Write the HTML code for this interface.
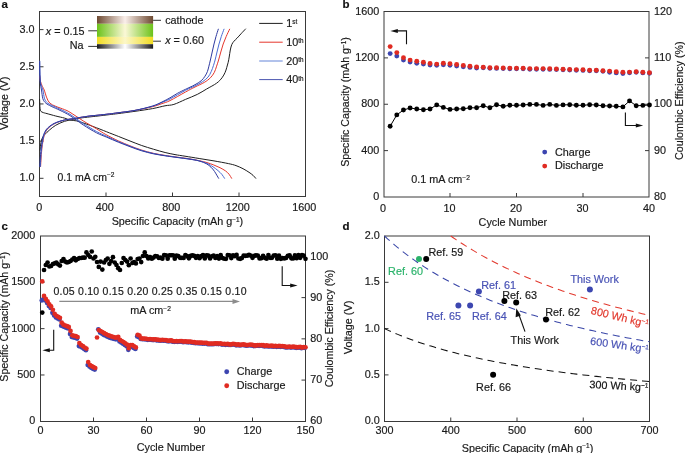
<!DOCTYPE html>
<html><head><meta charset="utf-8"><style>
html,body{margin:0;padding:0;background:#fff;}
svg{display:block;will-change:transform;}
text{font-family:"Liberation Sans", sans-serif;stroke-width:0.18px;}
</style></head><body>
<svg width="685" height="453" viewBox="0 0 685 453">
<rect width="685" height="453" fill="#fff"/>
<rect x="39.50" y="11.50" width="266.00" height="185.00" fill="none" stroke="#3a3a3a" stroke-width="1"/>
<line x1="39.50" y1="178.30" x2="43.50" y2="178.30" stroke="#3a3a3a" stroke-width="1.00" />
<line x1="39.50" y1="141.12" x2="43.50" y2="141.12" stroke="#3a3a3a" stroke-width="1.00" />
<line x1="39.50" y1="103.95" x2="43.50" y2="103.95" stroke="#3a3a3a" stroke-width="1.00" />
<line x1="39.50" y1="66.78" x2="43.50" y2="66.78" stroke="#3a3a3a" stroke-width="1.00" />
<line x1="39.50" y1="29.60" x2="43.50" y2="29.60" stroke="#3a3a3a" stroke-width="1.00" />
<line x1="106.00" y1="196.50" x2="106.00" y2="192.50" stroke="#3a3a3a" stroke-width="1.00" />
<line x1="172.50" y1="196.50" x2="172.50" y2="192.50" stroke="#3a3a3a" stroke-width="1.00" />
<line x1="239.00" y1="196.50" x2="239.00" y2="192.50" stroke="#3a3a3a" stroke-width="1.00" />
<rect x="384.00" y="11.50" width="265.00" height="185.50" fill="none" stroke="#3a3a3a" stroke-width="1"/>
<line x1="384.00" y1="150.62" x2="388.00" y2="150.62" stroke="#3a3a3a" stroke-width="1.00" />
<line x1="384.00" y1="104.25" x2="388.00" y2="104.25" stroke="#3a3a3a" stroke-width="1.00" />
<line x1="384.00" y1="57.88" x2="388.00" y2="57.88" stroke="#3a3a3a" stroke-width="1.00" />
<line x1="649.00" y1="150.62" x2="645.00" y2="150.62" stroke="#3a3a3a" stroke-width="1.00" />
<line x1="649.00" y1="104.25" x2="645.00" y2="104.25" stroke="#3a3a3a" stroke-width="1.00" />
<line x1="649.00" y1="57.88" x2="645.00" y2="57.88" stroke="#3a3a3a" stroke-width="1.00" />
<line x1="450.00" y1="197.00" x2="450.00" y2="193.00" stroke="#3a3a3a" stroke-width="1.00" />
<line x1="516.50" y1="197.00" x2="516.50" y2="193.00" stroke="#3a3a3a" stroke-width="1.00" />
<line x1="583.00" y1="197.00" x2="583.00" y2="193.00" stroke="#3a3a3a" stroke-width="1.00" />
<rect x="40.50" y="236.00" width="265.00" height="185.50" fill="none" stroke="#3a3a3a" stroke-width="1"/>
<line x1="40.50" y1="374.98" x2="44.50" y2="374.98" stroke="#3a3a3a" stroke-width="1.00" />
<line x1="40.50" y1="328.65" x2="44.50" y2="328.65" stroke="#3a3a3a" stroke-width="1.00" />
<line x1="40.50" y1="282.33" x2="44.50" y2="282.33" stroke="#3a3a3a" stroke-width="1.00" />
<line x1="305.50" y1="380.08" x2="301.50" y2="380.08" stroke="#3a3a3a" stroke-width="1.00" />
<line x1="305.50" y1="338.85" x2="301.50" y2="338.85" stroke="#3a3a3a" stroke-width="1.00" />
<line x1="305.50" y1="297.62" x2="301.50" y2="297.62" stroke="#3a3a3a" stroke-width="1.00" />
<line x1="305.50" y1="256.40" x2="301.50" y2="256.40" stroke="#3a3a3a" stroke-width="1.00" />
<line x1="93.50" y1="421.50" x2="93.50" y2="417.50" stroke="#3a3a3a" stroke-width="1.00" />
<line x1="146.50" y1="421.50" x2="146.50" y2="417.50" stroke="#3a3a3a" stroke-width="1.00" />
<line x1="199.50" y1="421.50" x2="199.50" y2="417.50" stroke="#3a3a3a" stroke-width="1.00" />
<line x1="252.50" y1="421.50" x2="252.50" y2="417.50" stroke="#3a3a3a" stroke-width="1.00" />
<rect x="384.50" y="236.00" width="265.00" height="185.50" fill="none" stroke="#3a3a3a" stroke-width="1"/>
<line x1="384.50" y1="374.90" x2="388.50" y2="374.90" stroke="#3a3a3a" stroke-width="1.00" />
<line x1="384.50" y1="328.60" x2="388.50" y2="328.60" stroke="#3a3a3a" stroke-width="1.00" />
<line x1="384.50" y1="282.30" x2="388.50" y2="282.30" stroke="#3a3a3a" stroke-width="1.00" />
<line x1="450.75" y1="421.50" x2="450.75" y2="417.50" stroke="#3a3a3a" stroke-width="1.00" />
<line x1="517.00" y1="421.50" x2="517.00" y2="417.50" stroke="#3a3a3a" stroke-width="1.00" />
<line x1="583.25" y1="421.50" x2="583.25" y2="417.50" stroke="#3a3a3a" stroke-width="1.00" />
<text x="1.50" y="8.00" font-size="11.50" text-anchor="start" fill="#111" stroke="#111" font-weight="bold" >a</text>
<text x="342.50" y="8.00" font-size="11.50" text-anchor="start" fill="#111" stroke="#111" font-weight="bold" >b</text>
<text x="1.50" y="229.60" font-size="11.50" text-anchor="start" fill="#111" stroke="#111" font-weight="bold" >c</text>
<text x="342.50" y="229.60" font-size="11.50" text-anchor="start" fill="#111" stroke="#111" font-weight="bold" >d</text>
<defs>
<linearGradient id="gBrown" x1="0" x2="1" y1="0" y2="0">
 <stop offset="0" stop-color="#6e4a32"/><stop offset="0.5" stop-color="#faefea"/><stop offset="1" stop-color="#6e4a32"/></linearGradient>
<linearGradient id="gGreen" x1="0" x2="1" y1="0" y2="0">
 <stop offset="0" stop-color="#6cc21a"/><stop offset="0.5" stop-color="#fbf8d6"/><stop offset="1" stop-color="#6cc21a"/></linearGradient>
<linearGradient id="gYellow" x1="0" x2="1" y1="0" y2="0">
 <stop offset="0" stop-color="#f1dc22"/><stop offset="0.5" stop-color="#fcf7c8"/><stop offset="1" stop-color="#f1dc22"/></linearGradient>
<linearGradient id="gBlack" x1="0" x2="1" y1="0" y2="0">
 <stop offset="0" stop-color="#1c1c1c"/><stop offset="0.5" stop-color="#ffffff"/><stop offset="1" stop-color="#1c1c1c"/></linearGradient>
</defs>
<rect x="97" y="16" width="56.1" height="7.8" fill="url(#gBrown)"/>
<rect x="97" y="23.8" width="56.1" height="13.1" fill="url(#gGreen)"/>
<rect x="97" y="36.9" width="56.1" height="7.3" fill="url(#gYellow)"/>
<rect x="97" y="44.2" width="56.1" height="4.5" fill="url(#gBlack)"/>
<line x1="88.20" y1="30.80" x2="97.00" y2="30.80" stroke="#333" stroke-width="1.00" />
<line x1="88.20" y1="46.40" x2="97.00" y2="46.40" stroke="#333" stroke-width="1.00" />
<line x1="153.10" y1="20.30" x2="161.00" y2="20.30" stroke="#333" stroke-width="1.00" />
<line x1="153.10" y1="41.20" x2="161.00" y2="41.20" stroke="#333" stroke-width="1.00" />
<text x="84.60" y="34.80" font-size="10.80" text-anchor="end" fill="#1a1a1a" stroke="#1a1a1a" font-weight="normal" ><tspan font-style="italic">x</tspan> = 0.15</text>
<text x="83.50" y="48.70" font-size="10.80" text-anchor="end" fill="#1a1a1a" stroke="#1a1a1a" font-weight="normal" >Na</text>
<text x="165.20" y="23.70" font-size="10.80" text-anchor="start" fill="#1a1a1a" stroke="#1a1a1a" font-weight="normal" >cathode</text>
<text x="165.20" y="43.90" font-size="10.80" text-anchor="start" fill="#1a1a1a" stroke="#1a1a1a" font-weight="normal" ><tspan font-style="italic">x</tspan> = 0.60</text>
<path d="M39.60,99.50 C39.63,100.25 39.72,102.45 39.80,104.00 C39.88,105.55 39.92,107.58 40.10,108.80 C40.28,110.02 40.37,110.67 40.90,111.30 C41.43,111.93 42.28,112.22 43.30,112.60 C44.32,112.98 44.93,113.03 47.00,113.60 C49.07,114.17 52.78,115.25 55.70,116.00 C58.62,116.75 62.12,117.43 64.50,118.10 C66.88,118.77 67.98,119.53 70.00,120.00 C72.02,120.47 74.40,120.42 76.60,120.90 C78.80,121.38 79.88,121.75 83.20,122.90 C86.52,124.05 92.08,126.12 96.50,127.80 C100.92,129.48 106.05,131.57 109.70,133.00 C113.35,134.43 115.02,135.07 118.40,136.40 C121.78,137.73 126.12,139.48 130.00,141.00 C133.88,142.52 137.80,144.13 141.70,145.50 C145.60,146.87 149.50,148.03 153.40,149.20 C157.30,150.37 161.50,151.60 165.10,152.50 C168.70,153.40 171.68,153.98 175.00,154.60 C178.32,155.22 180.97,155.55 185.00,156.20 C189.03,156.85 194.37,157.72 199.20,158.50 C204.03,159.28 209.13,160.05 214.00,160.90 C218.87,161.75 224.73,162.82 228.40,163.60 C232.07,164.38 233.57,164.75 236.00,165.60 C238.43,166.45 240.83,167.58 243.00,168.70 C245.17,169.82 247.33,171.20 249.00,172.30 C250.67,173.40 251.88,174.30 253.00,175.30 C254.12,176.30 255.25,177.80 255.70,178.30" fill="none" stroke="#1e1e1e" stroke-width="1.00" stroke-linejoin="round" stroke-linecap="round"/>
<path d="M40.10,150.00 C40.18,149.17 40.37,146.67 40.60,145.00 C40.83,143.33 41.07,141.42 41.50,140.00 C41.93,138.58 42.60,137.47 43.20,136.50 C43.80,135.53 44.05,135.28 45.10,134.20 C46.15,133.12 47.73,131.48 49.50,130.00 C51.27,128.52 53.20,126.75 55.70,125.30 C58.20,123.85 61.57,122.28 64.50,121.30 C67.43,120.32 70.73,119.93 73.30,119.40 C75.87,118.87 77.13,118.52 79.90,118.10 C82.67,117.68 86.88,117.25 89.90,116.90 C92.92,116.55 94.70,116.38 98.00,116.00 C101.30,115.62 106.37,115.00 109.70,114.60 C113.03,114.20 113.78,114.15 118.00,113.60 C122.22,113.05 129.23,112.13 135.00,111.30 C140.77,110.47 147.60,109.52 152.60,108.60 C157.60,107.68 161.45,106.50 165.00,105.80 C168.55,105.10 170.48,105.47 173.90,104.40 C177.32,103.33 181.60,101.07 185.50,99.40 C189.40,97.73 193.78,96.13 197.30,94.40 C200.82,92.67 203.38,90.87 206.60,89.00 C209.82,87.13 214.03,85.07 216.60,83.20 C219.17,81.33 220.58,79.60 222.00,77.80 C223.42,76.00 224.32,74.08 225.10,72.40 C225.88,70.72 226.18,69.38 226.70,67.70 C227.22,66.02 227.78,64.08 228.20,62.30 C228.62,60.52 228.85,59.05 229.20,57.00 C229.55,54.95 229.87,52.08 230.30,50.00 C230.73,47.92 231.18,45.97 231.80,44.50 C232.42,43.03 233.13,42.25 234.00,41.20 C234.87,40.15 235.83,39.43 237.00,38.20 C238.17,36.97 239.58,35.33 241.00,33.80 C242.42,32.27 244.75,29.80 245.50,29.00" fill="none" stroke="#1e1e1e" stroke-width="1.00" stroke-linejoin="round" stroke-linecap="round"/>
<path d="M39.80,76.00 C39.90,76.83 40.03,79.42 40.40,81.00 C40.77,82.58 41.37,84.00 42.00,85.50 C42.63,87.00 43.40,87.93 44.20,90.00 C45.00,92.07 45.85,95.70 46.80,97.90 C47.75,100.10 48.42,101.80 49.90,103.20 C51.38,104.60 53.27,105.23 55.70,106.30 C58.13,107.37 62.12,108.60 64.50,109.60 C66.88,110.60 66.88,110.42 70.00,112.30 C73.12,114.18 78.78,118.15 83.20,120.90 C87.62,123.65 92.73,126.53 96.50,128.80 C100.27,131.07 102.15,132.48 105.80,134.50 C109.45,136.52 114.37,139.02 118.40,140.90 C122.43,142.78 126.12,144.27 130.00,145.80 C133.88,147.33 137.80,148.85 141.70,150.10 C145.60,151.35 149.50,152.42 153.40,153.30 C157.30,154.18 161.50,154.80 165.10,155.40 C168.70,156.00 171.18,156.37 175.00,156.90 C178.82,157.43 183.97,157.97 188.00,158.60 C192.03,159.23 196.03,160.03 199.20,160.70 C202.37,161.37 204.57,161.88 207.00,162.60 C209.43,163.32 211.63,164.15 213.80,165.00 C215.97,165.85 218.05,166.72 220.00,167.70 C221.95,168.68 224.00,169.82 225.50,170.90 C227.00,171.98 227.98,172.97 229.00,174.20 C230.02,175.43 231.17,177.62 231.60,178.30" fill="none" stroke="#e5362c" stroke-width="1.00" stroke-linejoin="round" stroke-linecap="round"/>
<path d="M40.60,166.50 C40.68,165.08 40.93,160.50 41.10,158.00 C41.27,155.50 41.38,153.75 41.60,151.50 C41.82,149.25 41.98,147.12 42.40,144.50 C42.82,141.88 43.38,138.22 44.10,135.80 C44.82,133.38 45.58,131.63 46.70,130.00 C47.82,128.37 49.17,127.22 50.80,126.00 C52.43,124.78 54.22,123.70 56.50,122.70 C58.78,121.70 61.70,120.67 64.50,120.00 C67.30,119.33 70.73,119.12 73.30,118.70 C75.87,118.28 77.13,117.95 79.90,117.50 C82.67,117.05 86.88,116.38 89.90,116.00 C92.92,115.62 94.70,115.55 98.00,115.20 C101.30,114.85 106.37,114.30 109.70,113.90 C113.03,113.50 113.78,113.38 118.00,112.80 C122.22,112.22 129.23,111.42 135.00,110.40 C140.77,109.38 148.10,107.83 152.60,106.70 C157.10,105.57 159.10,104.62 162.00,103.60 C164.90,102.58 166.08,102.53 170.00,100.60 C173.92,98.67 181.33,94.27 185.50,92.00 C189.67,89.73 191.87,88.60 195.00,87.00 C198.13,85.40 201.73,83.93 204.30,82.40 C206.87,80.87 208.73,79.47 210.40,77.80 C212.07,76.13 213.27,74.33 214.30,72.40 C215.33,70.47 215.88,68.27 216.60,66.20 C217.32,64.13 217.90,62.37 218.60,60.00 C219.30,57.63 220.03,54.67 220.80,52.00 C221.57,49.33 222.30,46.58 223.20,44.00 C224.10,41.42 225.13,38.97 226.20,36.50 C227.27,34.03 229.03,30.42 229.60,29.20" fill="none" stroke="#e5362c" stroke-width="1.00" stroke-linejoin="round" stroke-linecap="round"/>
<path d="M39.70,61.20 C39.72,62.67 39.73,67.20 39.80,70.00 C39.87,72.80 39.93,75.67 40.10,78.00 C40.27,80.33 40.33,82.00 40.80,84.00 C41.27,86.00 42.27,87.53 42.90,90.00 C43.53,92.47 43.80,96.60 44.60,98.80 C45.40,101.00 46.30,102.02 47.70,103.20 C49.10,104.38 50.78,104.83 53.00,105.90 C55.22,106.97 58.17,108.20 61.00,109.60 C63.83,111.00 66.30,111.98 70.00,114.30 C73.70,116.62 78.78,120.63 83.20,123.50 C87.62,126.37 92.58,129.37 96.50,131.50 C100.42,133.63 103.05,134.62 106.70,136.30 C110.35,137.98 114.52,139.95 118.40,141.60 C122.28,143.25 126.12,144.73 130.00,146.20 C133.88,147.67 137.80,149.18 141.70,150.40 C145.60,151.62 149.50,152.63 153.40,153.50 C157.30,154.37 161.50,155.02 165.10,155.60 C168.70,156.18 171.52,156.52 175.00,157.00 C178.48,157.48 182.17,157.90 186.00,158.50 C189.83,159.10 194.50,159.78 198.00,160.60 C201.50,161.42 204.50,162.37 207.00,163.40 C209.50,164.43 211.17,165.60 213.00,166.80 C214.83,168.00 216.53,169.35 218.00,170.60 C219.47,171.85 220.72,173.02 221.80,174.30 C222.88,175.58 224.05,177.63 224.50,178.30" fill="none" stroke="#4a6bd4" stroke-width="1.00" stroke-linejoin="round" stroke-linecap="round"/>
<path d="M40.30,166.50 C40.38,165.08 40.63,160.50 40.80,158.00 C40.97,155.50 41.08,153.75 41.30,151.50 C41.52,149.25 41.68,147.12 42.10,144.50 C42.52,141.88 43.08,138.22 43.80,135.80 C44.52,133.38 45.28,131.63 46.40,130.00 C47.52,128.37 48.87,127.22 50.50,126.00 C52.13,124.78 53.87,123.70 56.20,122.70 C58.53,121.70 61.65,120.67 64.50,120.00 C67.35,119.33 70.73,119.12 73.30,118.70 C75.87,118.28 77.13,117.95 79.90,117.50 C82.67,117.05 86.88,116.38 89.90,116.00 C92.92,115.62 94.70,115.55 98.00,115.20 C101.30,114.85 106.37,114.30 109.70,113.90 C113.03,113.50 113.78,113.38 118.00,112.80 C122.22,112.22 129.23,111.50 135.00,110.40 C140.77,109.30 148.10,107.53 152.60,106.20 C157.10,104.87 159.10,103.60 162.00,102.40 C164.90,101.20 166.08,101.02 170.00,99.00 C173.92,96.98 181.33,92.48 185.50,90.30 C189.67,88.12 192.13,87.35 195.00,85.90 C197.87,84.45 200.52,83.08 202.70,81.60 C204.88,80.12 206.68,78.67 208.10,77.00 C209.52,75.33 210.30,73.53 211.20,71.60 C212.10,69.67 212.85,67.33 213.50,65.40 C214.15,63.47 214.52,62.23 215.10,60.00 C215.68,57.77 216.35,54.67 217.00,52.00 C217.65,49.33 218.28,46.58 219.00,44.00 C219.72,41.42 220.47,38.97 221.30,36.50 C222.13,34.03 223.55,30.42 224.00,29.20" fill="none" stroke="#4a6bd4" stroke-width="1.00" stroke-linejoin="round" stroke-linecap="round"/>
<path d="M39.70,61.60 C39.72,63.00 39.75,67.27 39.80,70.00 C39.85,72.73 39.90,75.67 40.00,78.00 C40.10,80.33 40.15,82.00 40.40,84.00 C40.65,86.00 41.08,87.53 41.50,90.00 C41.92,92.47 42.17,96.60 42.90,98.80 C43.63,101.00 44.52,101.95 45.90,103.20 C47.28,104.45 48.83,105.10 51.20,106.30 C53.57,107.50 56.97,108.85 60.10,110.40 C63.23,111.95 66.15,113.18 70.00,115.60 C73.85,118.02 78.78,122.03 83.20,124.90 C87.62,127.77 92.58,130.75 96.50,132.80 C100.42,134.85 103.05,135.63 106.70,137.20 C110.35,138.77 114.52,140.62 118.40,142.20 C122.28,143.78 126.12,145.27 130.00,146.70 C133.88,148.13 137.80,149.62 141.70,150.80 C145.60,151.98 149.50,152.97 153.40,153.80 C157.30,154.63 161.50,155.23 165.10,155.80 C168.70,156.37 170.53,156.58 175.00,157.20 C179.47,157.82 187.73,158.83 191.90,159.50 C196.07,160.17 197.57,160.48 200.00,161.20 C202.43,161.92 204.67,162.80 206.50,163.80 C208.33,164.80 209.67,165.93 211.00,167.20 C212.33,168.47 213.23,169.55 214.50,171.40 C215.77,173.25 217.92,177.15 218.60,178.30" fill="none" stroke="#2f3aa0" stroke-width="1.00" stroke-linejoin="round" stroke-linecap="round"/>
<path d="M39.80,166.50 C39.88,165.08 40.13,160.50 40.30,158.00 C40.47,155.50 40.58,153.75 40.80,151.50 C41.02,149.25 41.18,147.12 41.60,144.50 C42.02,141.88 42.58,138.22 43.30,135.80 C44.02,133.38 44.78,131.63 45.90,130.00 C47.02,128.37 48.37,127.22 50.00,126.00 C51.63,124.78 53.28,123.70 55.70,122.70 C58.12,121.70 61.57,120.67 64.50,120.00 C67.43,119.33 70.73,119.12 73.30,118.70 C75.87,118.28 77.13,117.95 79.90,117.50 C82.67,117.05 86.88,116.38 89.90,116.00 C92.92,115.62 94.70,115.55 98.00,115.20 C101.30,114.85 106.37,114.30 109.70,113.90 C113.03,113.50 113.78,113.38 118.00,112.80 C122.22,112.22 129.23,111.53 135.00,110.40 C140.77,109.27 148.10,107.40 152.60,106.00 C157.10,104.60 159.10,103.37 162.00,102.00 C164.90,100.63 167.38,99.27 170.00,97.80 C172.62,96.33 175.12,94.62 177.70,93.20 C180.28,91.78 183.45,90.30 185.50,89.30 C187.55,88.30 188.42,87.97 190.00,87.20 C191.58,86.43 193.13,85.77 195.00,84.70 C196.87,83.63 199.53,82.22 201.20,80.80 C202.87,79.38 203.97,77.73 205.00,76.20 C206.03,74.67 206.75,73.27 207.40,71.60 C208.05,69.93 208.40,68.13 208.90,66.20 C209.40,64.27 209.85,62.37 210.40,60.00 C210.95,57.63 211.60,54.67 212.20,52.00 C212.80,49.33 213.37,46.58 214.00,44.00 C214.63,41.42 215.28,38.97 216.00,36.50 C216.72,34.03 217.92,30.42 218.30,29.20" fill="none" stroke="#2f3aa0" stroke-width="1.00" stroke-linejoin="round" stroke-linecap="round"/>
<text x="34.60" y="181.45" font-size="10.80" text-anchor="end" fill="#1a1a1a" stroke="#1a1a1a" font-weight="normal" >1.0</text>
<text x="34.60" y="144.28" font-size="10.80" text-anchor="end" fill="#1a1a1a" stroke="#1a1a1a" font-weight="normal" >1.5</text>
<text x="34.60" y="107.10" font-size="10.80" text-anchor="end" fill="#1a1a1a" stroke="#1a1a1a" font-weight="normal" >2.0</text>
<text x="34.60" y="69.93" font-size="10.80" text-anchor="end" fill="#1a1a1a" stroke="#1a1a1a" font-weight="normal" >2.5</text>
<text x="34.60" y="32.75" font-size="10.80" text-anchor="end" fill="#1a1a1a" stroke="#1a1a1a" font-weight="normal" >3.0</text>
<text x="39.20" y="211.30" font-size="10.80" text-anchor="middle" fill="#1a1a1a" stroke="#1a1a1a" font-weight="normal" >0</text>
<text x="104.70" y="211.30" font-size="10.80" text-anchor="middle" fill="#1a1a1a" stroke="#1a1a1a" font-weight="normal" >400</text>
<text x="171.20" y="211.30" font-size="10.80" text-anchor="middle" fill="#1a1a1a" stroke="#1a1a1a" font-weight="normal" >800</text>
<text x="237.70" y="211.30" font-size="10.80" text-anchor="middle" fill="#1a1a1a" stroke="#1a1a1a" font-weight="normal" >1200</text>
<text x="304.20" y="211.30" font-size="10.80" text-anchor="middle" fill="#1a1a1a" stroke="#1a1a1a" font-weight="normal" >1600</text>
<text x="177.40" y="225.00" font-size="10.80" text-anchor="middle" fill="#1a1a1a" stroke="#1a1a1a" font-weight="normal" >Specific Capacity (mAh g<tspan font-size="6.4" dy="-3.3">−1</tspan><tspan dy="3.3">)</tspan></text>
<text x="0.00" y="0.00" font-size="10.80" text-anchor="middle" fill="#1a1a1a" stroke="#1a1a1a" font-weight="normal" transform="translate(8.2,103.3) rotate(-90)">Voltage (V)</text>
<text x="57.40" y="180.80" font-size="10.50" text-anchor="start" fill="#1a1a1a" stroke="#1a1a1a" font-weight="normal" >0.1 mA cm<tspan font-size="6.6" dy="-3.6">−2</tspan></text>
<line x1="259.20" y1="23.40" x2="282.70" y2="23.40" stroke="#1e1e1e" stroke-width="1.00" />
<text x="286.30" y="27.20" font-size="10.80" text-anchor="start" fill="#1a1a1a" stroke="#1a1a1a" font-weight="normal" >1<tspan font-size="6.3" dy="-2.8">st</tspan></text>
<line x1="259.20" y1="42.20" x2="282.70" y2="42.20" stroke="#e5362c" stroke-width="1.00" />
<text x="286.30" y="46.00" font-size="10.80" text-anchor="start" fill="#1a1a1a" stroke="#1a1a1a" font-weight="normal" >10<tspan font-size="6.3" dy="-2.8">th</tspan></text>
<line x1="259.20" y1="61.00" x2="282.70" y2="61.00" stroke="#6585d8" stroke-width="1.00" />
<text x="286.30" y="64.80" font-size="10.80" text-anchor="start" fill="#1a1a1a" stroke="#1a1a1a" font-weight="normal" >20<tspan font-size="6.3" dy="-2.8">th</tspan></text>
<line x1="259.20" y1="79.60" x2="282.70" y2="79.60" stroke="#4a56b0" stroke-width="1.00" />
<text x="286.30" y="83.40" font-size="10.80" text-anchor="start" fill="#1a1a1a" stroke="#1a1a1a" font-weight="normal" >40<tspan font-size="6.3" dy="-2.8">th</tspan></text>
<circle cx="390.15" cy="53.60" r="2.45" fill="#3c45b0"/>
<circle cx="396.80" cy="56.10" r="2.45" fill="#3c45b0"/>
<circle cx="403.45" cy="60.10" r="2.45" fill="#3c45b0"/>
<circle cx="410.10" cy="62.10" r="2.45" fill="#3c45b0"/>
<circle cx="416.75" cy="63.20" r="2.45" fill="#3c45b0"/>
<circle cx="423.40" cy="64.00" r="2.45" fill="#3c45b0"/>
<circle cx="430.05" cy="65.00" r="2.45" fill="#3c45b0"/>
<circle cx="436.70" cy="65.20" r="2.45" fill="#3c45b0"/>
<circle cx="443.35" cy="64.80" r="2.45" fill="#3c45b0"/>
<circle cx="450.00" cy="65.30" r="2.45" fill="#3c45b0"/>
<circle cx="456.65" cy="66.00" r="2.45" fill="#3c45b0"/>
<circle cx="463.30" cy="66.80" r="2.45" fill="#3c45b0"/>
<circle cx="469.95" cy="67.40" r="2.45" fill="#3c45b0"/>
<circle cx="476.60" cy="68.00" r="2.45" fill="#3c45b0"/>
<circle cx="483.25" cy="67.80" r="2.45" fill="#3c45b0"/>
<circle cx="489.90" cy="68.30" r="2.45" fill="#3c45b0"/>
<circle cx="496.55" cy="68.40" r="2.45" fill="#3c45b0"/>
<circle cx="503.20" cy="68.60" r="2.45" fill="#3c45b0"/>
<circle cx="509.85" cy="68.70" r="2.45" fill="#3c45b0"/>
<circle cx="516.50" cy="68.80" r="2.45" fill="#3c45b0"/>
<circle cx="523.15" cy="68.80" r="2.45" fill="#3c45b0"/>
<circle cx="529.80" cy="69.20" r="2.45" fill="#3c45b0"/>
<circle cx="536.45" cy="69.20" r="2.45" fill="#3c45b0"/>
<circle cx="543.10" cy="69.20" r="2.45" fill="#3c45b0"/>
<circle cx="549.75" cy="69.40" r="2.45" fill="#3c45b0"/>
<circle cx="556.40" cy="69.60" r="2.45" fill="#3c45b0"/>
<circle cx="563.05" cy="69.80" r="2.45" fill="#3c45b0"/>
<circle cx="569.70" cy="70.00" r="2.45" fill="#3c45b0"/>
<circle cx="576.35" cy="70.20" r="2.45" fill="#3c45b0"/>
<circle cx="583.00" cy="70.40" r="2.45" fill="#3c45b0"/>
<circle cx="589.65" cy="70.80" r="2.45" fill="#3c45b0"/>
<circle cx="596.30" cy="70.80" r="2.45" fill="#3c45b0"/>
<circle cx="602.95" cy="71.30" r="2.45" fill="#3c45b0"/>
<circle cx="609.60" cy="72.30" r="2.45" fill="#3c45b0"/>
<circle cx="616.25" cy="72.90" r="2.45" fill="#3c45b0"/>
<circle cx="622.90" cy="73.50" r="2.45" fill="#3c45b0"/>
<circle cx="629.55" cy="72.70" r="2.45" fill="#3c45b0"/>
<circle cx="636.20" cy="72.30" r="2.45" fill="#3c45b0"/>
<circle cx="642.85" cy="72.90" r="2.45" fill="#3c45b0"/>
<circle cx="649.50" cy="73.30" r="2.45" fill="#3c45b0"/>
<circle cx="390.15" cy="46.60" r="2.45" fill="#e02b22"/>
<circle cx="396.80" cy="52.60" r="2.45" fill="#e02b22"/>
<circle cx="403.45" cy="57.70" r="2.45" fill="#e02b22"/>
<circle cx="410.10" cy="60.10" r="2.45" fill="#e02b22"/>
<circle cx="416.75" cy="61.20" r="2.45" fill="#e02b22"/>
<circle cx="423.40" cy="62.20" r="2.45" fill="#e02b22"/>
<circle cx="430.05" cy="63.50" r="2.45" fill="#e02b22"/>
<circle cx="436.70" cy="64.10" r="2.45" fill="#e02b22"/>
<circle cx="443.35" cy="63.20" r="2.45" fill="#e02b22"/>
<circle cx="450.00" cy="63.70" r="2.45" fill="#e02b22"/>
<circle cx="456.65" cy="64.50" r="2.45" fill="#e02b22"/>
<circle cx="463.30" cy="65.40" r="2.45" fill="#e02b22"/>
<circle cx="469.95" cy="66.20" r="2.45" fill="#e02b22"/>
<circle cx="476.60" cy="67.00" r="2.45" fill="#e02b22"/>
<circle cx="483.25" cy="67.20" r="2.45" fill="#e02b22"/>
<circle cx="489.90" cy="67.70" r="2.45" fill="#e02b22"/>
<circle cx="496.55" cy="67.80" r="2.45" fill="#e02b22"/>
<circle cx="503.20" cy="68.00" r="2.45" fill="#e02b22"/>
<circle cx="509.85" cy="68.10" r="2.45" fill="#e02b22"/>
<circle cx="516.50" cy="68.20" r="2.45" fill="#e02b22"/>
<circle cx="523.15" cy="68.20" r="2.45" fill="#e02b22"/>
<circle cx="529.80" cy="68.60" r="2.45" fill="#e02b22"/>
<circle cx="536.45" cy="68.60" r="2.45" fill="#e02b22"/>
<circle cx="543.10" cy="68.60" r="2.45" fill="#e02b22"/>
<circle cx="549.75" cy="68.80" r="2.45" fill="#e02b22"/>
<circle cx="556.40" cy="69.00" r="2.45" fill="#e02b22"/>
<circle cx="563.05" cy="69.20" r="2.45" fill="#e02b22"/>
<circle cx="569.70" cy="69.40" r="2.45" fill="#e02b22"/>
<circle cx="576.35" cy="69.60" r="2.45" fill="#e02b22"/>
<circle cx="583.00" cy="69.80" r="2.45" fill="#e02b22"/>
<circle cx="589.65" cy="70.20" r="2.45" fill="#e02b22"/>
<circle cx="596.30" cy="70.20" r="2.45" fill="#e02b22"/>
<circle cx="602.95" cy="70.70" r="2.45" fill="#e02b22"/>
<circle cx="609.60" cy="71.10" r="2.45" fill="#e02b22"/>
<circle cx="616.25" cy="71.70" r="2.45" fill="#e02b22"/>
<circle cx="622.90" cy="72.30" r="2.45" fill="#e02b22"/>
<circle cx="629.55" cy="72.10" r="2.45" fill="#e02b22"/>
<circle cx="636.20" cy="71.70" r="2.45" fill="#e02b22"/>
<circle cx="642.85" cy="72.30" r="2.45" fill="#e02b22"/>
<circle cx="649.50" cy="72.70" r="2.45" fill="#e02b22"/>
<polyline points="390.15,126.20 396.80,114.90 403.45,110.00 410.10,108.00 416.75,109.00 423.40,109.80 430.05,109.00 436.70,104.90 443.35,107.40 450.00,109.40 456.65,109.00 463.30,108.80 469.95,107.80 476.60,107.80 483.25,105.70 489.90,107.80 496.55,104.70 503.20,106.30 509.85,105.30 516.50,105.30 523.15,105.00 529.80,104.40 536.45,104.40 543.10,105.40 549.75,104.40 556.40,105.40 563.05,104.90 569.70,104.70 576.35,105.30 583.00,105.30 589.65,104.70 596.30,105.00 602.95,105.80 609.60,106.00 616.25,106.30 622.90,106.90 629.55,100.90 636.20,105.80 642.85,105.40 649.50,105.00" fill="none" stroke="#000" stroke-width="1"/>
<circle cx="390.15" cy="126.20" r="2.45" fill="#000"/>
<circle cx="396.80" cy="114.90" r="2.45" fill="#000"/>
<circle cx="403.45" cy="110.00" r="2.45" fill="#000"/>
<circle cx="410.10" cy="108.00" r="2.45" fill="#000"/>
<circle cx="416.75" cy="109.00" r="2.45" fill="#000"/>
<circle cx="423.40" cy="109.80" r="2.45" fill="#000"/>
<circle cx="430.05" cy="109.00" r="2.45" fill="#000"/>
<circle cx="436.70" cy="104.90" r="2.45" fill="#000"/>
<circle cx="443.35" cy="107.40" r="2.45" fill="#000"/>
<circle cx="450.00" cy="109.40" r="2.45" fill="#000"/>
<circle cx="456.65" cy="109.00" r="2.45" fill="#000"/>
<circle cx="463.30" cy="108.80" r="2.45" fill="#000"/>
<circle cx="469.95" cy="107.80" r="2.45" fill="#000"/>
<circle cx="476.60" cy="107.80" r="2.45" fill="#000"/>
<circle cx="483.25" cy="105.70" r="2.45" fill="#000"/>
<circle cx="489.90" cy="107.80" r="2.45" fill="#000"/>
<circle cx="496.55" cy="104.70" r="2.45" fill="#000"/>
<circle cx="503.20" cy="106.30" r="2.45" fill="#000"/>
<circle cx="509.85" cy="105.30" r="2.45" fill="#000"/>
<circle cx="516.50" cy="105.30" r="2.45" fill="#000"/>
<circle cx="523.15" cy="105.00" r="2.45" fill="#000"/>
<circle cx="529.80" cy="104.40" r="2.45" fill="#000"/>
<circle cx="536.45" cy="104.40" r="2.45" fill="#000"/>
<circle cx="543.10" cy="105.40" r="2.45" fill="#000"/>
<circle cx="549.75" cy="104.40" r="2.45" fill="#000"/>
<circle cx="556.40" cy="105.40" r="2.45" fill="#000"/>
<circle cx="563.05" cy="104.90" r="2.45" fill="#000"/>
<circle cx="569.70" cy="104.70" r="2.45" fill="#000"/>
<circle cx="576.35" cy="105.30" r="2.45" fill="#000"/>
<circle cx="583.00" cy="105.30" r="2.45" fill="#000"/>
<circle cx="589.65" cy="104.70" r="2.45" fill="#000"/>
<circle cx="596.30" cy="105.00" r="2.45" fill="#000"/>
<circle cx="602.95" cy="105.80" r="2.45" fill="#000"/>
<circle cx="609.60" cy="106.00" r="2.45" fill="#000"/>
<circle cx="616.25" cy="106.30" r="2.45" fill="#000"/>
<circle cx="622.90" cy="106.90" r="2.45" fill="#000"/>
<circle cx="629.55" cy="100.90" r="2.45" fill="#000"/>
<circle cx="636.20" cy="105.80" r="2.45" fill="#000"/>
<circle cx="642.85" cy="105.40" r="2.45" fill="#000"/>
<circle cx="649.50" cy="105.00" r="2.45" fill="#000"/>
<text x="379.20" y="200.15" font-size="10.80" text-anchor="end" fill="#1a1a1a" stroke="#1a1a1a" font-weight="normal" >0</text>
<text x="379.20" y="153.78" font-size="10.80" text-anchor="end" fill="#1a1a1a" stroke="#1a1a1a" font-weight="normal" >400</text>
<text x="379.20" y="107.40" font-size="10.80" text-anchor="end" fill="#1a1a1a" stroke="#1a1a1a" font-weight="normal" >800</text>
<text x="379.20" y="61.02" font-size="10.80" text-anchor="end" fill="#1a1a1a" stroke="#1a1a1a" font-weight="normal" >1200</text>
<text x="379.20" y="14.65" font-size="10.80" text-anchor="end" fill="#1a1a1a" stroke="#1a1a1a" font-weight="normal" >1600</text>
<text x="654.00" y="200.15" font-size="10.80" text-anchor="start" fill="#1a1a1a" stroke="#1a1a1a" font-weight="normal" >80</text>
<text x="654.00" y="153.78" font-size="10.80" text-anchor="start" fill="#1a1a1a" stroke="#1a1a1a" font-weight="normal" >90</text>
<text x="654.00" y="107.40" font-size="10.80" text-anchor="start" fill="#1a1a1a" stroke="#1a1a1a" font-weight="normal" >100</text>
<text x="654.00" y="61.02" font-size="10.80" text-anchor="start" fill="#1a1a1a" stroke="#1a1a1a" font-weight="normal" >110</text>
<text x="654.00" y="14.65" font-size="10.80" text-anchor="start" fill="#1a1a1a" stroke="#1a1a1a" font-weight="normal" >120</text>
<text x="383.00" y="211.50" font-size="10.80" text-anchor="middle" fill="#1a1a1a" stroke="#1a1a1a" font-weight="normal" >0</text>
<text x="449.50" y="211.50" font-size="10.80" text-anchor="middle" fill="#1a1a1a" stroke="#1a1a1a" font-weight="normal" >10</text>
<text x="516.00" y="211.50" font-size="10.80" text-anchor="middle" fill="#1a1a1a" stroke="#1a1a1a" font-weight="normal" >20</text>
<text x="582.50" y="211.50" font-size="10.80" text-anchor="middle" fill="#1a1a1a" stroke="#1a1a1a" font-weight="normal" >30</text>
<text x="649.00" y="211.50" font-size="10.80" text-anchor="middle" fill="#1a1a1a" stroke="#1a1a1a" font-weight="normal" >40</text>
<text x="512.80" y="225.50" font-size="10.80" text-anchor="middle" fill="#1a1a1a" stroke="#1a1a1a" font-weight="normal" >Cycle Number</text>
<text x="0.00" y="0.00" font-size="10.65" text-anchor="middle" fill="#1a1a1a" stroke="#1a1a1a" font-weight="normal" transform="translate(349.2,102.0) rotate(-90)">Specific Capacity (mAh g<tspan font-size="6.4" dy="-3.3">−1</tspan><tspan dy="3.3">)</tspan></text>
<text x="0.00" y="0.00" font-size="10.70" text-anchor="middle" fill="#1a1a1a" stroke="#1a1a1a" font-weight="normal" transform="translate(683.2,100.65) rotate(-90)">Coulombic Efficiency (%)</text>
<text x="411.30" y="183.40" font-size="10.80" text-anchor="start" fill="#1a1a1a" stroke="#1a1a1a" font-weight="normal" >0.1 mA cm<tspan font-size="6.6" dy="-3.6">−2</tspan></text>
<circle cx="544.7" cy="152.1" r="2.45" fill="#3c45b0"/>
<circle cx="544.7" cy="166.1" r="2.45" fill="#e02b22"/>
<text x="555.00" y="156.10" font-size="10.80" text-anchor="start" fill="#1a1a1a" stroke="#1a1a1a" font-weight="normal" >Charge</text>
<text x="555.00" y="169.20" font-size="10.80" text-anchor="start" fill="#1a1a1a" stroke="#1a1a1a" font-weight="normal" >Discharge</text>
<path d="M406.5,44.2 L406.5,30.9 L396,30.9" fill="none" stroke="#111" stroke-width="1.1"/>
<path d="M390.4,30.9 L397.8,28.9 L397.8,32.9 Z" fill="#111"/>
<path d="M625.4,112.6 L625.4,125.5 L637,125.5" fill="none" stroke="#111" stroke-width="1.1"/>
<path d="M643.2,125.5 L635.8,123.5 L635.8,127.5 Z" fill="#111"/>
<circle cx="41.77" cy="300.40" r="2.35" fill="#3c45b0"/>
<circle cx="43.53" cy="298.90" r="2.35" fill="#3c45b0"/>
<circle cx="45.30" cy="300.50" r="2.35" fill="#3c45b0"/>
<circle cx="47.07" cy="303.00" r="2.35" fill="#3c45b0"/>
<circle cx="48.83" cy="306.00" r="2.35" fill="#3c45b0"/>
<circle cx="50.60" cy="308.00" r="2.35" fill="#3c45b0"/>
<circle cx="52.37" cy="312.80" r="2.35" fill="#3c45b0"/>
<circle cx="54.13" cy="315.40" r="2.35" fill="#3c45b0"/>
<circle cx="55.90" cy="317.40" r="2.35" fill="#3c45b0"/>
<circle cx="57.67" cy="318.40" r="2.35" fill="#3c45b0"/>
<circle cx="59.43" cy="319.40" r="2.35" fill="#3c45b0"/>
<circle cx="61.20" cy="325.70" r="2.35" fill="#3c45b0"/>
<circle cx="62.97" cy="326.30" r="2.35" fill="#3c45b0"/>
<circle cx="64.73" cy="327.10" r="2.35" fill="#3c45b0"/>
<circle cx="66.50" cy="327.80" r="2.35" fill="#3c45b0"/>
<circle cx="68.27" cy="328.50" r="2.35" fill="#3c45b0"/>
<circle cx="70.03" cy="333.90" r="2.35" fill="#3c45b0"/>
<circle cx="71.80" cy="336.90" r="2.35" fill="#3c45b0"/>
<circle cx="73.57" cy="337.40" r="2.35" fill="#3c45b0"/>
<circle cx="75.33" cy="337.80" r="2.35" fill="#3c45b0"/>
<circle cx="77.10" cy="338.60" r="2.35" fill="#3c45b0"/>
<circle cx="78.87" cy="346.10" r="2.35" fill="#3c45b0"/>
<circle cx="80.63" cy="346.60" r="2.35" fill="#3c45b0"/>
<circle cx="82.40" cy="347.70" r="2.35" fill="#3c45b0"/>
<circle cx="84.17" cy="349.10" r="2.35" fill="#3c45b0"/>
<circle cx="85.93" cy="350.20" r="2.35" fill="#3c45b0"/>
<circle cx="87.70" cy="365.00" r="2.35" fill="#3c45b0"/>
<circle cx="89.47" cy="366.60" r="2.35" fill="#3c45b0"/>
<circle cx="91.23" cy="367.80" r="2.35" fill="#3c45b0"/>
<circle cx="93.00" cy="368.80" r="2.35" fill="#3c45b0"/>
<circle cx="94.77" cy="369.60" r="2.35" fill="#3c45b0"/>
<circle cx="98.30" cy="329.30" r="2.35" fill="#3c45b0"/>
<circle cx="100.07" cy="332.60" r="2.35" fill="#3c45b0"/>
<circle cx="101.83" cy="333.60" r="2.35" fill="#3c45b0"/>
<circle cx="103.60" cy="334.80" r="2.35" fill="#3c45b0"/>
<circle cx="105.37" cy="335.60" r="2.35" fill="#3c45b0"/>
<circle cx="107.13" cy="336.60" r="2.35" fill="#3c45b0"/>
<circle cx="108.90" cy="337.30" r="2.35" fill="#3c45b0"/>
<circle cx="110.67" cy="337.90" r="2.35" fill="#3c45b0"/>
<circle cx="112.43" cy="338.40" r="2.35" fill="#3c45b0"/>
<circle cx="114.20" cy="339.00" r="2.35" fill="#3c45b0"/>
<circle cx="115.97" cy="339.30" r="2.35" fill="#3c45b0"/>
<circle cx="117.73" cy="338.40" r="2.35" fill="#3c45b0"/>
<circle cx="119.50" cy="341.50" r="2.35" fill="#3c45b0"/>
<circle cx="121.27" cy="342.60" r="2.35" fill="#3c45b0"/>
<circle cx="123.03" cy="343.70" r="2.35" fill="#3c45b0"/>
<circle cx="124.80" cy="345.00" r="2.35" fill="#3c45b0"/>
<circle cx="126.57" cy="346.30" r="2.35" fill="#3c45b0"/>
<circle cx="128.33" cy="349.80" r="2.35" fill="#3c45b0"/>
<circle cx="130.10" cy="346.60" r="2.35" fill="#3c45b0"/>
<circle cx="131.87" cy="346.80" r="2.35" fill="#3c45b0"/>
<circle cx="133.63" cy="347.90" r="2.35" fill="#3c45b0"/>
<circle cx="135.40" cy="349.00" r="2.35" fill="#3c45b0"/>
<circle cx="137.17" cy="336.40" r="2.35" fill="#3c45b0"/>
<circle cx="138.93" cy="337.20" r="2.35" fill="#3c45b0"/>
<circle cx="140.70" cy="339.00" r="2.35" fill="#3c45b0"/>
<circle cx="142.47" cy="339.14" r="2.35" fill="#3c45b0"/>
<circle cx="144.23" cy="339.26" r="2.35" fill="#3c45b0"/>
<circle cx="146.00" cy="339.48" r="2.35" fill="#3c45b0"/>
<circle cx="147.77" cy="339.87" r="2.35" fill="#3c45b0"/>
<circle cx="149.53" cy="339.70" r="2.35" fill="#3c45b0"/>
<circle cx="151.30" cy="339.87" r="2.35" fill="#3c45b0"/>
<circle cx="153.07" cy="340.07" r="2.35" fill="#3c45b0"/>
<circle cx="154.83" cy="339.93" r="2.35" fill="#3c45b0"/>
<circle cx="156.60" cy="340.31" r="2.35" fill="#3c45b0"/>
<circle cx="158.37" cy="340.51" r="2.35" fill="#3c45b0"/>
<circle cx="160.13" cy="340.75" r="2.35" fill="#3c45b0"/>
<circle cx="161.90" cy="340.38" r="2.35" fill="#3c45b0"/>
<circle cx="163.67" cy="340.65" r="2.35" fill="#3c45b0"/>
<circle cx="165.43" cy="340.62" r="2.35" fill="#3c45b0"/>
<circle cx="167.20" cy="341.24" r="2.35" fill="#3c45b0"/>
<circle cx="168.97" cy="341.28" r="2.35" fill="#3c45b0"/>
<circle cx="170.73" cy="340.94" r="2.35" fill="#3c45b0"/>
<circle cx="172.50" cy="341.72" r="2.35" fill="#3c45b0"/>
<circle cx="174.27" cy="341.83" r="2.35" fill="#3c45b0"/>
<circle cx="176.03" cy="341.74" r="2.35" fill="#3c45b0"/>
<circle cx="177.80" cy="341.83" r="2.35" fill="#3c45b0"/>
<circle cx="179.57" cy="341.63" r="2.35" fill="#3c45b0"/>
<circle cx="181.33" cy="341.65" r="2.35" fill="#3c45b0"/>
<circle cx="183.10" cy="342.13" r="2.35" fill="#3c45b0"/>
<circle cx="184.87" cy="341.92" r="2.35" fill="#3c45b0"/>
<circle cx="186.63" cy="342.13" r="2.35" fill="#3c45b0"/>
<circle cx="188.40" cy="342.29" r="2.35" fill="#3c45b0"/>
<circle cx="190.17" cy="342.26" r="2.35" fill="#3c45b0"/>
<circle cx="191.93" cy="342.69" r="2.35" fill="#3c45b0"/>
<circle cx="193.70" cy="342.79" r="2.35" fill="#3c45b0"/>
<circle cx="195.47" cy="343.19" r="2.35" fill="#3c45b0"/>
<circle cx="197.23" cy="343.09" r="2.35" fill="#3c45b0"/>
<circle cx="199.00" cy="343.29" r="2.35" fill="#3c45b0"/>
<circle cx="200.77" cy="343.32" r="2.35" fill="#3c45b0"/>
<circle cx="202.53" cy="343.55" r="2.35" fill="#3c45b0"/>
<circle cx="204.30" cy="343.53" r="2.35" fill="#3c45b0"/>
<circle cx="206.07" cy="343.52" r="2.35" fill="#3c45b0"/>
<circle cx="207.83" cy="344.15" r="2.35" fill="#3c45b0"/>
<circle cx="209.60" cy="344.22" r="2.35" fill="#3c45b0"/>
<circle cx="211.37" cy="344.19" r="2.35" fill="#3c45b0"/>
<circle cx="213.13" cy="344.17" r="2.35" fill="#3c45b0"/>
<circle cx="214.90" cy="343.97" r="2.35" fill="#3c45b0"/>
<circle cx="216.67" cy="343.99" r="2.35" fill="#3c45b0"/>
<circle cx="218.43" cy="344.10" r="2.35" fill="#3c45b0"/>
<circle cx="220.20" cy="344.02" r="2.35" fill="#3c45b0"/>
<circle cx="221.97" cy="344.59" r="2.35" fill="#3c45b0"/>
<circle cx="223.73" cy="344.41" r="2.35" fill="#3c45b0"/>
<circle cx="225.50" cy="344.79" r="2.35" fill="#3c45b0"/>
<circle cx="227.27" cy="344.55" r="2.35" fill="#3c45b0"/>
<circle cx="229.03" cy="345.02" r="2.35" fill="#3c45b0"/>
<circle cx="230.80" cy="345.02" r="2.35" fill="#3c45b0"/>
<circle cx="232.57" cy="344.50" r="2.35" fill="#3c45b0"/>
<circle cx="234.33" cy="344.72" r="2.35" fill="#3c45b0"/>
<circle cx="236.10" cy="345.29" r="2.35" fill="#3c45b0"/>
<circle cx="237.87" cy="345.05" r="2.35" fill="#3c45b0"/>
<circle cx="239.63" cy="345.49" r="2.35" fill="#3c45b0"/>
<circle cx="241.40" cy="345.15" r="2.35" fill="#3c45b0"/>
<circle cx="243.17" cy="345.00" r="2.35" fill="#3c45b0"/>
<circle cx="244.93" cy="345.47" r="2.35" fill="#3c45b0"/>
<circle cx="246.70" cy="345.64" r="2.35" fill="#3c45b0"/>
<circle cx="248.47" cy="345.36" r="2.35" fill="#3c45b0"/>
<circle cx="250.23" cy="345.31" r="2.35" fill="#3c45b0"/>
<circle cx="252.00" cy="345.56" r="2.35" fill="#3c45b0"/>
<circle cx="253.77" cy="346.07" r="2.35" fill="#3c45b0"/>
<circle cx="255.53" cy="346.01" r="2.35" fill="#3c45b0"/>
<circle cx="257.30" cy="345.63" r="2.35" fill="#3c45b0"/>
<circle cx="259.07" cy="345.80" r="2.35" fill="#3c45b0"/>
<circle cx="260.83" cy="345.77" r="2.35" fill="#3c45b0"/>
<circle cx="262.60" cy="345.82" r="2.35" fill="#3c45b0"/>
<circle cx="264.37" cy="346.41" r="2.35" fill="#3c45b0"/>
<circle cx="266.13" cy="346.05" r="2.35" fill="#3c45b0"/>
<circle cx="267.90" cy="346.39" r="2.35" fill="#3c45b0"/>
<circle cx="269.67" cy="346.39" r="2.35" fill="#3c45b0"/>
<circle cx="271.43" cy="346.28" r="2.35" fill="#3c45b0"/>
<circle cx="273.20" cy="346.74" r="2.35" fill="#3c45b0"/>
<circle cx="274.97" cy="346.39" r="2.35" fill="#3c45b0"/>
<circle cx="276.73" cy="346.83" r="2.35" fill="#3c45b0"/>
<circle cx="278.50" cy="346.53" r="2.35" fill="#3c45b0"/>
<circle cx="280.27" cy="346.82" r="2.35" fill="#3c45b0"/>
<circle cx="282.03" cy="346.75" r="2.35" fill="#3c45b0"/>
<circle cx="283.80" cy="346.86" r="2.35" fill="#3c45b0"/>
<circle cx="285.57" cy="347.43" r="2.35" fill="#3c45b0"/>
<circle cx="287.33" cy="347.39" r="2.35" fill="#3c45b0"/>
<circle cx="289.10" cy="347.11" r="2.35" fill="#3c45b0"/>
<circle cx="290.87" cy="347.59" r="2.35" fill="#3c45b0"/>
<circle cx="292.63" cy="347.20" r="2.35" fill="#3c45b0"/>
<circle cx="294.40" cy="347.40" r="2.35" fill="#3c45b0"/>
<circle cx="296.17" cy="347.80" r="2.35" fill="#3c45b0"/>
<circle cx="297.93" cy="347.72" r="2.35" fill="#3c45b0"/>
<circle cx="299.70" cy="347.42" r="2.35" fill="#3c45b0"/>
<circle cx="301.47" cy="348.14" r="2.35" fill="#3c45b0"/>
<circle cx="303.23" cy="347.70" r="2.35" fill="#3c45b0"/>
<circle cx="305.00" cy="347.83" r="2.35" fill="#3c45b0"/>
<circle cx="42.27" cy="281.40" r="2.35" fill="#e02b22"/>
<circle cx="44.03" cy="295.90" r="2.35" fill="#e02b22"/>
<circle cx="45.80" cy="298.90" r="2.35" fill="#e02b22"/>
<circle cx="47.57" cy="301.40" r="2.35" fill="#e02b22"/>
<circle cx="49.33" cy="304.40" r="2.35" fill="#e02b22"/>
<circle cx="51.10" cy="306.40" r="2.35" fill="#e02b22"/>
<circle cx="52.87" cy="309.80" r="2.35" fill="#e02b22"/>
<circle cx="54.63" cy="313.80" r="2.35" fill="#e02b22"/>
<circle cx="56.40" cy="315.80" r="2.35" fill="#e02b22"/>
<circle cx="58.17" cy="316.80" r="2.35" fill="#e02b22"/>
<circle cx="59.93" cy="317.80" r="2.35" fill="#e02b22"/>
<circle cx="61.70" cy="322.70" r="2.35" fill="#e02b22"/>
<circle cx="63.47" cy="324.70" r="2.35" fill="#e02b22"/>
<circle cx="65.23" cy="325.50" r="2.35" fill="#e02b22"/>
<circle cx="67.00" cy="326.20" r="2.35" fill="#e02b22"/>
<circle cx="68.77" cy="326.90" r="2.35" fill="#e02b22"/>
<circle cx="70.53" cy="330.90" r="2.35" fill="#e02b22"/>
<circle cx="72.30" cy="335.30" r="2.35" fill="#e02b22"/>
<circle cx="74.07" cy="335.80" r="2.35" fill="#e02b22"/>
<circle cx="75.83" cy="336.20" r="2.35" fill="#e02b22"/>
<circle cx="77.60" cy="337.00" r="2.35" fill="#e02b22"/>
<circle cx="79.37" cy="343.10" r="2.35" fill="#e02b22"/>
<circle cx="81.13" cy="345.00" r="2.35" fill="#e02b22"/>
<circle cx="82.90" cy="346.10" r="2.35" fill="#e02b22"/>
<circle cx="84.67" cy="347.50" r="2.35" fill="#e02b22"/>
<circle cx="86.43" cy="348.60" r="2.35" fill="#e02b22"/>
<circle cx="88.20" cy="362.00" r="2.35" fill="#e02b22"/>
<circle cx="89.97" cy="365.00" r="2.35" fill="#e02b22"/>
<circle cx="91.73" cy="366.20" r="2.35" fill="#e02b22"/>
<circle cx="93.50" cy="367.20" r="2.35" fill="#e02b22"/>
<circle cx="95.27" cy="368.00" r="2.35" fill="#e02b22"/>
<circle cx="97.03" cy="337.50" r="2.35" fill="#e02b22"/>
<circle cx="98.80" cy="330.10" r="2.35" fill="#e02b22"/>
<circle cx="100.57" cy="331.00" r="2.35" fill="#e02b22"/>
<circle cx="102.33" cy="332.00" r="2.35" fill="#e02b22"/>
<circle cx="104.10" cy="333.20" r="2.35" fill="#e02b22"/>
<circle cx="105.87" cy="334.00" r="2.35" fill="#e02b22"/>
<circle cx="107.63" cy="335.00" r="2.35" fill="#e02b22"/>
<circle cx="109.40" cy="335.70" r="2.35" fill="#e02b22"/>
<circle cx="111.17" cy="336.30" r="2.35" fill="#e02b22"/>
<circle cx="112.93" cy="336.80" r="2.35" fill="#e02b22"/>
<circle cx="114.70" cy="337.40" r="2.35" fill="#e02b22"/>
<circle cx="116.47" cy="337.70" r="2.35" fill="#e02b22"/>
<circle cx="118.23" cy="336.80" r="2.35" fill="#e02b22"/>
<circle cx="120.00" cy="339.90" r="2.35" fill="#e02b22"/>
<circle cx="121.77" cy="341.00" r="2.35" fill="#e02b22"/>
<circle cx="123.53" cy="342.10" r="2.35" fill="#e02b22"/>
<circle cx="125.30" cy="343.40" r="2.35" fill="#e02b22"/>
<circle cx="127.07" cy="344.70" r="2.35" fill="#e02b22"/>
<circle cx="128.83" cy="348.20" r="2.35" fill="#e02b22"/>
<circle cx="130.60" cy="345.00" r="2.35" fill="#e02b22"/>
<circle cx="132.37" cy="345.20" r="2.35" fill="#e02b22"/>
<circle cx="134.13" cy="346.30" r="2.35" fill="#e02b22"/>
<circle cx="135.90" cy="347.40" r="2.35" fill="#e02b22"/>
<circle cx="137.67" cy="334.80" r="2.35" fill="#e02b22"/>
<circle cx="139.43" cy="335.60" r="2.35" fill="#e02b22"/>
<circle cx="141.20" cy="338.40" r="2.35" fill="#e02b22"/>
<circle cx="142.97" cy="338.54" r="2.35" fill="#e02b22"/>
<circle cx="144.73" cy="338.66" r="2.35" fill="#e02b22"/>
<circle cx="146.50" cy="338.88" r="2.35" fill="#e02b22"/>
<circle cx="148.27" cy="339.27" r="2.35" fill="#e02b22"/>
<circle cx="150.03" cy="339.10" r="2.35" fill="#e02b22"/>
<circle cx="151.80" cy="339.27" r="2.35" fill="#e02b22"/>
<circle cx="153.57" cy="339.47" r="2.35" fill="#e02b22"/>
<circle cx="155.33" cy="339.33" r="2.35" fill="#e02b22"/>
<circle cx="157.10" cy="339.71" r="2.35" fill="#e02b22"/>
<circle cx="158.87" cy="339.91" r="2.35" fill="#e02b22"/>
<circle cx="160.63" cy="340.15" r="2.35" fill="#e02b22"/>
<circle cx="162.40" cy="339.78" r="2.35" fill="#e02b22"/>
<circle cx="164.17" cy="340.05" r="2.35" fill="#e02b22"/>
<circle cx="165.93" cy="340.02" r="2.35" fill="#e02b22"/>
<circle cx="167.70" cy="340.64" r="2.35" fill="#e02b22"/>
<circle cx="169.47" cy="340.68" r="2.35" fill="#e02b22"/>
<circle cx="171.23" cy="340.34" r="2.35" fill="#e02b22"/>
<circle cx="173.00" cy="341.12" r="2.35" fill="#e02b22"/>
<circle cx="174.77" cy="341.23" r="2.35" fill="#e02b22"/>
<circle cx="176.53" cy="341.14" r="2.35" fill="#e02b22"/>
<circle cx="178.30" cy="341.23" r="2.35" fill="#e02b22"/>
<circle cx="180.07" cy="341.03" r="2.35" fill="#e02b22"/>
<circle cx="181.83" cy="341.05" r="2.35" fill="#e02b22"/>
<circle cx="183.60" cy="341.53" r="2.35" fill="#e02b22"/>
<circle cx="185.37" cy="341.32" r="2.35" fill="#e02b22"/>
<circle cx="187.13" cy="341.53" r="2.35" fill="#e02b22"/>
<circle cx="188.90" cy="341.69" r="2.35" fill="#e02b22"/>
<circle cx="190.67" cy="341.66" r="2.35" fill="#e02b22"/>
<circle cx="192.43" cy="342.09" r="2.35" fill="#e02b22"/>
<circle cx="194.20" cy="342.19" r="2.35" fill="#e02b22"/>
<circle cx="195.97" cy="342.59" r="2.35" fill="#e02b22"/>
<circle cx="197.73" cy="342.49" r="2.35" fill="#e02b22"/>
<circle cx="199.50" cy="342.69" r="2.35" fill="#e02b22"/>
<circle cx="201.27" cy="342.72" r="2.35" fill="#e02b22"/>
<circle cx="203.03" cy="342.95" r="2.35" fill="#e02b22"/>
<circle cx="204.80" cy="342.93" r="2.35" fill="#e02b22"/>
<circle cx="206.57" cy="342.92" r="2.35" fill="#e02b22"/>
<circle cx="208.33" cy="343.55" r="2.35" fill="#e02b22"/>
<circle cx="210.10" cy="343.62" r="2.35" fill="#e02b22"/>
<circle cx="211.87" cy="343.59" r="2.35" fill="#e02b22"/>
<circle cx="213.63" cy="343.57" r="2.35" fill="#e02b22"/>
<circle cx="215.40" cy="343.37" r="2.35" fill="#e02b22"/>
<circle cx="217.17" cy="343.39" r="2.35" fill="#e02b22"/>
<circle cx="218.93" cy="343.50" r="2.35" fill="#e02b22"/>
<circle cx="220.70" cy="343.42" r="2.35" fill="#e02b22"/>
<circle cx="222.47" cy="343.99" r="2.35" fill="#e02b22"/>
<circle cx="224.23" cy="343.81" r="2.35" fill="#e02b22"/>
<circle cx="226.00" cy="344.19" r="2.35" fill="#e02b22"/>
<circle cx="227.77" cy="343.95" r="2.35" fill="#e02b22"/>
<circle cx="229.53" cy="344.42" r="2.35" fill="#e02b22"/>
<circle cx="231.30" cy="344.42" r="2.35" fill="#e02b22"/>
<circle cx="233.07" cy="343.90" r="2.35" fill="#e02b22"/>
<circle cx="234.83" cy="344.12" r="2.35" fill="#e02b22"/>
<circle cx="236.60" cy="344.69" r="2.35" fill="#e02b22"/>
<circle cx="238.37" cy="344.45" r="2.35" fill="#e02b22"/>
<circle cx="240.13" cy="344.89" r="2.35" fill="#e02b22"/>
<circle cx="241.90" cy="344.55" r="2.35" fill="#e02b22"/>
<circle cx="243.67" cy="344.40" r="2.35" fill="#e02b22"/>
<circle cx="245.43" cy="344.87" r="2.35" fill="#e02b22"/>
<circle cx="247.20" cy="345.04" r="2.35" fill="#e02b22"/>
<circle cx="248.97" cy="344.76" r="2.35" fill="#e02b22"/>
<circle cx="250.73" cy="344.71" r="2.35" fill="#e02b22"/>
<circle cx="252.50" cy="344.96" r="2.35" fill="#e02b22"/>
<circle cx="254.27" cy="345.47" r="2.35" fill="#e02b22"/>
<circle cx="256.03" cy="345.41" r="2.35" fill="#e02b22"/>
<circle cx="257.80" cy="345.03" r="2.35" fill="#e02b22"/>
<circle cx="259.57" cy="345.20" r="2.35" fill="#e02b22"/>
<circle cx="261.33" cy="345.17" r="2.35" fill="#e02b22"/>
<circle cx="263.10" cy="345.22" r="2.35" fill="#e02b22"/>
<circle cx="264.87" cy="345.81" r="2.35" fill="#e02b22"/>
<circle cx="266.63" cy="345.45" r="2.35" fill="#e02b22"/>
<circle cx="268.40" cy="345.79" r="2.35" fill="#e02b22"/>
<circle cx="270.17" cy="345.79" r="2.35" fill="#e02b22"/>
<circle cx="271.93" cy="345.68" r="2.35" fill="#e02b22"/>
<circle cx="273.70" cy="346.14" r="2.35" fill="#e02b22"/>
<circle cx="275.47" cy="345.79" r="2.35" fill="#e02b22"/>
<circle cx="277.23" cy="346.23" r="2.35" fill="#e02b22"/>
<circle cx="279.00" cy="345.93" r="2.35" fill="#e02b22"/>
<circle cx="280.77" cy="346.22" r="2.35" fill="#e02b22"/>
<circle cx="282.53" cy="346.15" r="2.35" fill="#e02b22"/>
<circle cx="284.30" cy="346.26" r="2.35" fill="#e02b22"/>
<circle cx="286.07" cy="346.83" r="2.35" fill="#e02b22"/>
<circle cx="287.83" cy="346.79" r="2.35" fill="#e02b22"/>
<circle cx="289.60" cy="346.51" r="2.35" fill="#e02b22"/>
<circle cx="291.37" cy="346.99" r="2.35" fill="#e02b22"/>
<circle cx="293.13" cy="346.60" r="2.35" fill="#e02b22"/>
<circle cx="294.90" cy="346.80" r="2.35" fill="#e02b22"/>
<circle cx="296.67" cy="347.20" r="2.35" fill="#e02b22"/>
<circle cx="298.43" cy="347.12" r="2.35" fill="#e02b22"/>
<circle cx="300.20" cy="346.82" r="2.35" fill="#e02b22"/>
<circle cx="301.97" cy="347.54" r="2.35" fill="#e02b22"/>
<circle cx="303.73" cy="347.10" r="2.35" fill="#e02b22"/>
<circle cx="305.50" cy="347.23" r="2.35" fill="#e02b22"/>
<circle cx="42.27" cy="312.60" r="2.35" fill="#000"/>
<circle cx="44.03" cy="270.00" r="2.35" fill="#000"/>
<circle cx="45.80" cy="265.00" r="2.35" fill="#000"/>
<circle cx="47.57" cy="262.50" r="2.35" fill="#000"/>
<circle cx="49.33" cy="266.50" r="2.35" fill="#000"/>
<circle cx="51.10" cy="266.00" r="2.35" fill="#000"/>
<circle cx="52.87" cy="264.00" r="2.35" fill="#000"/>
<circle cx="54.63" cy="263.40" r="2.35" fill="#000"/>
<circle cx="56.40" cy="262.50" r="2.35" fill="#000"/>
<circle cx="58.17" cy="264.30" r="2.35" fill="#000"/>
<circle cx="59.93" cy="265.60" r="2.35" fill="#000"/>
<circle cx="61.70" cy="261.00" r="2.35" fill="#000"/>
<circle cx="63.47" cy="259.00" r="2.35" fill="#000"/>
<circle cx="65.23" cy="261.60" r="2.35" fill="#000"/>
<circle cx="67.00" cy="262.50" r="2.35" fill="#000"/>
<circle cx="68.77" cy="262.00" r="2.35" fill="#000"/>
<circle cx="70.53" cy="261.00" r="2.35" fill="#000"/>
<circle cx="72.30" cy="259.50" r="2.35" fill="#000"/>
<circle cx="74.07" cy="258.10" r="2.35" fill="#000"/>
<circle cx="75.83" cy="260.30" r="2.35" fill="#000"/>
<circle cx="77.60" cy="259.00" r="2.35" fill="#000"/>
<circle cx="79.37" cy="258.10" r="2.35" fill="#000"/>
<circle cx="81.13" cy="258.00" r="2.35" fill="#000"/>
<circle cx="82.90" cy="257.70" r="2.35" fill="#000"/>
<circle cx="84.67" cy="257.70" r="2.35" fill="#000"/>
<circle cx="86.43" cy="252.40" r="2.35" fill="#000"/>
<circle cx="88.20" cy="255.00" r="2.35" fill="#000"/>
<circle cx="89.97" cy="256.80" r="2.35" fill="#000"/>
<circle cx="91.73" cy="251.50" r="2.35" fill="#000"/>
<circle cx="93.50" cy="258.50" r="2.35" fill="#000"/>
<circle cx="95.27" cy="256.80" r="2.35" fill="#000"/>
<circle cx="97.03" cy="262.00" r="2.35" fill="#000"/>
<circle cx="98.80" cy="266.90" r="2.35" fill="#000"/>
<circle cx="100.57" cy="261.60" r="2.35" fill="#000"/>
<circle cx="102.33" cy="269.60" r="2.35" fill="#000"/>
<circle cx="104.10" cy="262.50" r="2.35" fill="#000"/>
<circle cx="105.87" cy="260.00" r="2.35" fill="#000"/>
<circle cx="107.63" cy="258.50" r="2.35" fill="#000"/>
<circle cx="109.40" cy="263.80" r="2.35" fill="#000"/>
<circle cx="111.17" cy="261.00" r="2.35" fill="#000"/>
<circle cx="112.93" cy="257.20" r="2.35" fill="#000"/>
<circle cx="114.70" cy="262.50" r="2.35" fill="#000"/>
<circle cx="116.47" cy="265.00" r="2.35" fill="#000"/>
<circle cx="118.23" cy="268.20" r="2.35" fill="#000"/>
<circle cx="120.00" cy="270.00" r="2.35" fill="#000"/>
<circle cx="121.77" cy="263.00" r="2.35" fill="#000"/>
<circle cx="123.53" cy="258.10" r="2.35" fill="#000"/>
<circle cx="125.30" cy="260.00" r="2.35" fill="#000"/>
<circle cx="127.07" cy="261.60" r="2.35" fill="#000"/>
<circle cx="128.83" cy="265.20" r="2.35" fill="#000"/>
<circle cx="130.60" cy="258.50" r="2.35" fill="#000"/>
<circle cx="132.37" cy="263.00" r="2.35" fill="#000"/>
<circle cx="134.13" cy="262.00" r="2.35" fill="#000"/>
<circle cx="135.90" cy="263.40" r="2.35" fill="#000"/>
<circle cx="137.67" cy="259.00" r="2.35" fill="#000"/>
<circle cx="139.43" cy="258.50" r="2.35" fill="#000"/>
<circle cx="141.20" cy="262.10" r="2.35" fill="#000"/>
<circle cx="142.97" cy="256.00" r="2.35" fill="#000"/>
<circle cx="144.73" cy="252.40" r="2.35" fill="#000"/>
<circle cx="146.50" cy="256.00" r="2.35" fill="#000"/>
<circle cx="148.27" cy="258.50" r="2.35" fill="#000"/>
<circle cx="150.03" cy="257.00" r="2.35" fill="#000"/>
<circle cx="151.80" cy="258.66" r="2.35" fill="#000"/>
<circle cx="153.57" cy="257.60" r="2.35" fill="#000"/>
<circle cx="155.33" cy="256.01" r="2.35" fill="#000"/>
<circle cx="157.10" cy="256.28" r="2.35" fill="#000"/>
<circle cx="158.87" cy="258.02" r="2.35" fill="#000"/>
<circle cx="160.63" cy="257.68" r="2.35" fill="#000"/>
<circle cx="162.40" cy="258.67" r="2.35" fill="#000"/>
<circle cx="164.17" cy="255.09" r="2.35" fill="#000"/>
<circle cx="165.93" cy="255.42" r="2.35" fill="#000"/>
<circle cx="167.70" cy="258.77" r="2.35" fill="#000"/>
<circle cx="169.47" cy="255.28" r="2.35" fill="#000"/>
<circle cx="171.23" cy="255.26" r="2.35" fill="#000"/>
<circle cx="173.00" cy="255.34" r="2.35" fill="#000"/>
<circle cx="174.77" cy="258.74" r="2.35" fill="#000"/>
<circle cx="176.53" cy="255.71" r="2.35" fill="#000"/>
<circle cx="178.30" cy="256.15" r="2.35" fill="#000"/>
<circle cx="180.07" cy="257.83" r="2.35" fill="#000"/>
<circle cx="181.83" cy="257.86" r="2.35" fill="#000"/>
<circle cx="183.60" cy="257.91" r="2.35" fill="#000"/>
<circle cx="185.37" cy="255.00" r="2.35" fill="#000"/>
<circle cx="187.13" cy="256.12" r="2.35" fill="#000"/>
<circle cx="188.90" cy="258.28" r="2.35" fill="#000"/>
<circle cx="190.67" cy="255.91" r="2.35" fill="#000"/>
<circle cx="192.43" cy="255.25" r="2.35" fill="#000"/>
<circle cx="194.20" cy="255.92" r="2.35" fill="#000"/>
<circle cx="195.97" cy="257.85" r="2.35" fill="#000"/>
<circle cx="197.73" cy="256.05" r="2.35" fill="#000"/>
<circle cx="199.50" cy="258.24" r="2.35" fill="#000"/>
<circle cx="201.27" cy="256.17" r="2.35" fill="#000"/>
<circle cx="203.03" cy="255.05" r="2.35" fill="#000"/>
<circle cx="204.80" cy="258.42" r="2.35" fill="#000"/>
<circle cx="206.57" cy="255.47" r="2.35" fill="#000"/>
<circle cx="208.33" cy="255.64" r="2.35" fill="#000"/>
<circle cx="210.10" cy="258.48" r="2.35" fill="#000"/>
<circle cx="211.87" cy="256.27" r="2.35" fill="#000"/>
<circle cx="213.63" cy="255.62" r="2.35" fill="#000"/>
<circle cx="215.40" cy="257.95" r="2.35" fill="#000"/>
<circle cx="217.17" cy="256.19" r="2.35" fill="#000"/>
<circle cx="218.93" cy="258.53" r="2.35" fill="#000"/>
<circle cx="220.70" cy="255.19" r="2.35" fill="#000"/>
<circle cx="222.47" cy="257.99" r="2.35" fill="#000"/>
<circle cx="224.23" cy="258.76" r="2.35" fill="#000"/>
<circle cx="226.00" cy="258.82" r="2.35" fill="#000"/>
<circle cx="227.77" cy="255.09" r="2.35" fill="#000"/>
<circle cx="229.53" cy="255.43" r="2.35" fill="#000"/>
<circle cx="231.30" cy="258.03" r="2.35" fill="#000"/>
<circle cx="233.07" cy="255.45" r="2.35" fill="#000"/>
<circle cx="234.83" cy="256.17" r="2.35" fill="#000"/>
<circle cx="236.60" cy="254.91" r="2.35" fill="#000"/>
<circle cx="238.37" cy="258.52" r="2.35" fill="#000"/>
<circle cx="240.13" cy="258.81" r="2.35" fill="#000"/>
<circle cx="241.90" cy="258.12" r="2.35" fill="#000"/>
<circle cx="243.67" cy="255.57" r="2.35" fill="#000"/>
<circle cx="245.43" cy="255.87" r="2.35" fill="#000"/>
<circle cx="247.20" cy="255.63" r="2.35" fill="#000"/>
<circle cx="248.97" cy="254.96" r="2.35" fill="#000"/>
<circle cx="250.73" cy="255.60" r="2.35" fill="#000"/>
<circle cx="252.50" cy="257.86" r="2.35" fill="#000"/>
<circle cx="254.27" cy="255.78" r="2.35" fill="#000"/>
<circle cx="256.03" cy="255.35" r="2.35" fill="#000"/>
<circle cx="257.80" cy="255.57" r="2.35" fill="#000"/>
<circle cx="259.57" cy="258.42" r="2.35" fill="#000"/>
<circle cx="261.33" cy="258.20" r="2.35" fill="#000"/>
<circle cx="263.10" cy="255.84" r="2.35" fill="#000"/>
<circle cx="264.87" cy="257.78" r="2.35" fill="#000"/>
<circle cx="266.63" cy="258.63" r="2.35" fill="#000"/>
<circle cx="268.40" cy="255.07" r="2.35" fill="#000"/>
<circle cx="270.17" cy="257.81" r="2.35" fill="#000"/>
<circle cx="271.93" cy="257.79" r="2.35" fill="#000"/>
<circle cx="273.70" cy="255.60" r="2.35" fill="#000"/>
<circle cx="275.47" cy="255.30" r="2.35" fill="#000"/>
<circle cx="277.23" cy="258.65" r="2.35" fill="#000"/>
<circle cx="279.00" cy="255.67" r="2.35" fill="#000"/>
<circle cx="280.77" cy="258.80" r="2.35" fill="#000"/>
<circle cx="282.53" cy="258.04" r="2.35" fill="#000"/>
<circle cx="284.30" cy="258.44" r="2.35" fill="#000"/>
<circle cx="286.07" cy="257.95" r="2.35" fill="#000"/>
<circle cx="287.83" cy="255.91" r="2.35" fill="#000"/>
<circle cx="289.60" cy="255.35" r="2.35" fill="#000"/>
<circle cx="291.37" cy="258.30" r="2.35" fill="#000"/>
<circle cx="293.13" cy="258.41" r="2.35" fill="#000"/>
<circle cx="294.90" cy="255.40" r="2.35" fill="#000"/>
<circle cx="296.67" cy="258.14" r="2.35" fill="#000"/>
<circle cx="298.43" cy="255.22" r="2.35" fill="#000"/>
<circle cx="300.20" cy="257.83" r="2.35" fill="#000"/>
<circle cx="301.97" cy="255.18" r="2.35" fill="#000"/>
<circle cx="303.73" cy="255.67" r="2.35" fill="#000"/>
<circle cx="305.50" cy="258.84" r="2.35" fill="#000"/>
<text x="35.30" y="424.45" font-size="10.80" text-anchor="end" fill="#1a1a1a" stroke="#1a1a1a" font-weight="normal" >0</text>
<text x="35.30" y="378.12" font-size="10.80" text-anchor="end" fill="#1a1a1a" stroke="#1a1a1a" font-weight="normal" >500</text>
<text x="35.30" y="331.80" font-size="10.80" text-anchor="end" fill="#1a1a1a" stroke="#1a1a1a" font-weight="normal" >1000</text>
<text x="35.30" y="285.48" font-size="10.80" text-anchor="end" fill="#1a1a1a" stroke="#1a1a1a" font-weight="normal" >1500</text>
<text x="35.30" y="239.15" font-size="10.80" text-anchor="end" fill="#1a1a1a" stroke="#1a1a1a" font-weight="normal" >2000</text>
<text x="310.20" y="424.45" font-size="10.80" text-anchor="start" fill="#1a1a1a" stroke="#1a1a1a" font-weight="normal" >60</text>
<text x="310.20" y="383.23" font-size="10.80" text-anchor="start" fill="#1a1a1a" stroke="#1a1a1a" font-weight="normal" >70</text>
<text x="310.20" y="342.00" font-size="10.80" text-anchor="start" fill="#1a1a1a" stroke="#1a1a1a" font-weight="normal" >80</text>
<text x="310.20" y="300.77" font-size="10.80" text-anchor="start" fill="#1a1a1a" stroke="#1a1a1a" font-weight="normal" >90</text>
<text x="310.20" y="259.55" font-size="10.80" text-anchor="start" fill="#1a1a1a" stroke="#1a1a1a" font-weight="normal" >100</text>
<text x="40.50" y="433.60" font-size="10.80" text-anchor="middle" fill="#1a1a1a" stroke="#1a1a1a" font-weight="normal" >0</text>
<text x="93.50" y="433.60" font-size="10.80" text-anchor="middle" fill="#1a1a1a" stroke="#1a1a1a" font-weight="normal" >30</text>
<text x="146.50" y="433.60" font-size="10.80" text-anchor="middle" fill="#1a1a1a" stroke="#1a1a1a" font-weight="normal" >60</text>
<text x="199.50" y="433.60" font-size="10.80" text-anchor="middle" fill="#1a1a1a" stroke="#1a1a1a" font-weight="normal" >90</text>
<text x="252.50" y="433.60" font-size="10.80" text-anchor="middle" fill="#1a1a1a" stroke="#1a1a1a" font-weight="normal" >120</text>
<text x="305.50" y="433.60" font-size="10.80" text-anchor="middle" fill="#1a1a1a" stroke="#1a1a1a" font-weight="normal" >150</text>
<text x="170.90" y="451.10" font-size="10.80" text-anchor="middle" fill="#1a1a1a" stroke="#1a1a1a" font-weight="normal" >Cycle Number</text>
<text x="0.00" y="0.00" font-size="10.65" text-anchor="middle" fill="#1a1a1a" stroke="#1a1a1a" font-weight="normal" transform="translate(8.4,316.85) rotate(-90)">Specific Capacity (mAh g<tspan font-size="6.4" dy="-3.3">−1</tspan><tspan dy="3.3">)</tspan></text>
<text x="0.00" y="0.00" font-size="10.60" text-anchor="middle" fill="#1a1a1a" stroke="#1a1a1a" font-weight="normal" transform="translate(333.2,328.5) rotate(-90)">Coulombic Efficiency (%)</text>
<text x="53.50" y="294.60" font-size="10.50" text-anchor="start" fill="#1a1a1a" stroke="#1a1a1a" font-weight="normal" textLength="193" lengthAdjust="spacing">0.05 0.10 0.15 0.20 0.25 0.35 0.15 0.10</text>
<line x1="59.3" y1="301.4" x2="236" y2="301.4" stroke="#8c8c8c" stroke-width="1.3"/>
<path d="M240,301.4 L232.5,298.9 L232.5,303.9 Z" fill="#8c8c8c"/>
<text x="130.30" y="314.10" font-size="10.80" text-anchor="start" fill="#1a1a1a" stroke="#1a1a1a" font-weight="normal" >mA cm<tspan font-size="6.6" dy="-3.6">−2</tspan></text>
<circle cx="226.7" cy="371.8" r="2.45" fill="#3c45b0"/>
<circle cx="226.7" cy="385.7" r="2.45" fill="#e02b22"/>
<text x="236.80" y="375.00" font-size="10.80" text-anchor="start" fill="#1a1a1a" stroke="#1a1a1a" font-weight="normal" >Charge</text>
<text x="236.80" y="389.20" font-size="10.80" text-anchor="start" fill="#1a1a1a" stroke="#1a1a1a" font-weight="normal" >Discharge</text>
<path d="M53.7,329.7 L53.7,350.3 L48.5,350.3" fill="none" stroke="#111" stroke-width="1.1"/>
<path d="M42.4,350.3 L49.8,348.3 L49.8,352.3 Z" fill="#111"/>
<path d="M282.2,266.2 L282.2,285.5 L291.5,285.5" fill="none" stroke="#111" stroke-width="1.1"/>
<path d="M297.6,285.5 L290.2,283.5 L290.2,287.5 Z" fill="#111"/>
<path d="M450.75,236.00 L453.23,237.72 L455.72,239.41 L458.20,241.07 L460.69,242.69 L463.17,244.29 L465.66,245.86 L468.14,247.41 L470.62,248.92 L473.11,250.41 L475.59,251.87 L478.08,253.31 L480.56,254.73 L483.05,256.12 L485.53,257.49 L488.02,258.83 L490.50,260.16 L492.98,261.46 L495.47,262.74 L497.95,264.00 L500.44,265.24 L502.92,266.46 L505.41,267.67 L507.89,268.85 L510.38,270.02 L512.86,271.16 L515.34,272.30 L517.83,273.41 L520.31,274.51 L522.80,275.59 L525.28,276.65 L527.77,277.70 L530.25,278.74 L532.73,279.76 L535.22,280.76 L537.70,281.76 L540.19,282.73 L542.67,283.70 L545.16,284.65 L547.64,285.58 L550.12,286.51 L552.61,287.42 L555.09,288.32 L557.58,289.21 L560.06,290.08 L562.55,290.95 L565.03,291.80 L567.52,292.64 L570.00,293.48 L572.48,294.30 L574.97,295.11 L577.45,295.91 L579.94,296.70 L582.42,297.48 L584.91,298.25 L587.39,299.01 L589.88,299.76 L592.36,300.50 L594.84,301.23 L597.33,301.96 L599.81,302.67 L602.30,303.38 L604.78,304.08 L607.27,304.77 L609.75,305.45 L612.23,306.12 L614.72,306.79 L617.20,307.45 L619.69,308.10 L622.17,308.74 L624.66,309.38 L627.14,310.01 L629.62,310.63 L632.11,311.25 L634.59,311.86 L637.08,312.46 L639.56,313.05 L642.05,313.64 L644.53,314.23 L647.02,314.80 L649.50,315.37" fill="none" stroke="#e2392e" stroke-width="1.05" stroke-dasharray="7,5"/>
<path d="M384.50,236.00 L387.81,239.04 L391.12,241.97 L394.44,244.82 L397.75,247.57 L401.06,250.25 L404.38,252.84 L407.69,255.35 L411.00,257.79 L414.31,260.16 L417.62,262.46 L420.94,264.69 L424.25,266.87 L427.56,268.98 L430.88,271.04 L434.19,273.04 L437.50,274.99 L440.81,276.89 L444.12,278.74 L447.44,280.54 L450.75,282.30 L454.06,284.01 L457.38,285.69 L460.69,287.32 L464.00,288.91 L467.31,290.47 L470.62,291.99 L473.94,293.48 L477.25,294.93 L480.56,296.35 L483.88,297.73 L487.19,299.09 L490.50,300.42 L493.81,301.72 L497.12,302.99 L500.44,304.23 L503.75,305.45 L507.06,306.64 L510.38,307.81 L513.69,308.96 L517.00,310.08 L520.31,311.18 L523.62,312.26 L526.94,313.32 L530.25,314.35 L533.56,315.37 L536.88,316.37 L540.19,317.35 L543.50,318.31 L546.81,319.26 L550.12,320.18 L553.44,321.09 L556.75,321.99 L560.06,322.86 L563.38,323.73 L566.69,324.57 L570.00,325.41 L573.31,326.23 L576.62,327.03 L579.94,327.82 L583.25,328.60 L586.56,329.37 L589.88,330.12 L593.19,330.86 L596.50,331.59 L599.81,332.30 L603.12,333.01 L606.44,333.70 L609.75,334.39 L613.06,335.06 L616.38,335.72 L619.69,336.38 L623.00,337.02 L626.31,337.65 L629.62,338.27 L632.94,338.89 L636.25,339.49 L639.56,340.09 L642.88,340.68 L646.19,341.26 L649.50,341.83" fill="none" stroke="#3a47a8" stroke-width="1.05" stroke-dasharray="7,5"/>
<path d="M384.50,328.60 L387.81,330.12 L391.12,331.59 L394.44,333.01 L397.75,334.39 L401.06,335.72 L404.38,337.02 L407.69,338.27 L411.00,339.49 L414.31,340.68 L417.62,341.83 L420.94,342.95 L424.25,344.03 L427.56,345.09 L430.88,346.12 L434.19,347.12 L437.50,348.09 L440.81,349.04 L444.12,349.97 L447.44,350.87 L450.75,351.75 L454.06,352.61 L457.38,353.44 L460.69,354.26 L464.00,355.06 L467.31,355.84 L470.62,356.60 L473.94,357.34 L477.25,358.06 L480.56,358.77 L483.88,359.47 L487.19,360.15 L490.50,360.81 L493.81,361.46 L497.12,362.09 L500.44,362.72 L503.75,363.32 L507.06,363.92 L510.38,364.51 L513.69,365.08 L517.00,365.64 L520.31,366.19 L523.62,366.73 L526.94,367.26 L530.25,367.78 L533.56,368.29 L536.88,368.78 L540.19,369.27 L543.50,369.76 L546.81,370.23 L550.12,370.69 L553.44,371.15 L556.75,371.59 L560.06,372.03 L563.38,372.46 L566.69,372.89 L570.00,373.30 L573.31,373.71 L576.62,374.12 L579.94,374.51 L583.25,374.90 L586.56,375.28 L589.88,375.66 L593.19,376.03 L596.50,376.39 L599.81,376.75 L603.12,377.10 L606.44,377.45 L609.75,377.79 L613.06,378.13 L616.38,378.46 L619.69,378.79 L623.00,379.11 L626.31,379.43 L629.62,379.74 L632.94,380.04 L636.25,380.35 L639.56,380.65 L642.88,380.94 L646.19,381.23 L649.50,381.51" fill="none" stroke="#111" stroke-width="1.05" stroke-dasharray="7,5"/>
<text x="379.70" y="424.35" font-size="10.80" text-anchor="end" fill="#1a1a1a" stroke="#1a1a1a" font-weight="normal" >0.0</text>
<text x="379.70" y="378.05" font-size="10.80" text-anchor="end" fill="#1a1a1a" stroke="#1a1a1a" font-weight="normal" >0.5</text>
<text x="379.70" y="331.75" font-size="10.80" text-anchor="end" fill="#1a1a1a" stroke="#1a1a1a" font-weight="normal" >1.0</text>
<text x="379.70" y="285.45" font-size="10.80" text-anchor="end" fill="#1a1a1a" stroke="#1a1a1a" font-weight="normal" >1.5</text>
<text x="379.70" y="239.15" font-size="10.80" text-anchor="end" fill="#1a1a1a" stroke="#1a1a1a" font-weight="normal" >2.0</text>
<text x="384.50" y="434.00" font-size="10.80" text-anchor="middle" fill="#1a1a1a" stroke="#1a1a1a" font-weight="normal" >300</text>
<text x="450.75" y="434.00" font-size="10.80" text-anchor="middle" fill="#1a1a1a" stroke="#1a1a1a" font-weight="normal" >400</text>
<text x="517.00" y="434.00" font-size="10.80" text-anchor="middle" fill="#1a1a1a" stroke="#1a1a1a" font-weight="normal" >500</text>
<text x="583.25" y="434.00" font-size="10.80" text-anchor="middle" fill="#1a1a1a" stroke="#1a1a1a" font-weight="normal" >600</text>
<text x="649.50" y="434.00" font-size="10.80" text-anchor="middle" fill="#1a1a1a" stroke="#1a1a1a" font-weight="normal" >700</text>
<text x="527.50" y="451.50" font-size="10.80" text-anchor="middle" fill="#1a1a1a" stroke="#1a1a1a" font-weight="normal" >Specific Capacity (mAh g<tspan font-size="6.4" dy="-3.3">−1</tspan><tspan dy="3.3">)</tspan></text>
<text x="0.00" y="0.00" font-size="10.80" text-anchor="middle" fill="#1a1a1a" stroke="#1a1a1a" font-weight="normal" transform="translate(351.9,327.45) rotate(-90)">Voltage (V)</text>
<circle cx="419.00" cy="258.90" r="3.00" fill="#2bb36b"/>
<circle cx="426.20" cy="258.90" r="3.00" fill="#000"/>
<circle cx="478.90" cy="291.40" r="3.00" fill="#3d47b0"/>
<circle cx="504.40" cy="300.90" r="3.00" fill="#000"/>
<circle cx="516.20" cy="302.60" r="3.00" fill="#000"/>
<circle cx="458.40" cy="305.40" r="3.00" fill="#3d47b0"/>
<circle cx="470.10" cy="305.40" r="3.00" fill="#3d47b0"/>
<circle cx="546.00" cy="319.40" r="3.00" fill="#000"/>
<circle cx="589.90" cy="289.60" r="3.00" fill="#3d47b0"/>
<circle cx="493.10" cy="374.70" r="3.00" fill="#000"/>
<text x="428.50" y="256.00" font-size="10.80" text-anchor="start" fill="#1a1a1a" stroke="#1a1a1a" font-weight="normal" >Ref. 59</text>
<text x="388.10" y="274.70" font-size="10.80" text-anchor="start" fill="#2bb36b" stroke="#2bb36b" font-weight="normal" >Ref. 60</text>
<text x="481.20" y="289.10" font-size="10.80" text-anchor="start" fill="#4852b5" stroke="#4852b5" font-weight="normal" >Ref. 61</text>
<text x="502.20" y="298.70" font-size="10.80" text-anchor="start" fill="#1a1a1a" stroke="#1a1a1a" font-weight="normal" >Ref. 63</text>
<text x="461.00" y="320.30" font-size="10.80" text-anchor="end" fill="#4852b5" stroke="#4852b5" font-weight="normal" >Ref. 65</text>
<text x="471.90" y="320.30" font-size="10.80" text-anchor="start" fill="#4852b5" stroke="#4852b5" font-weight="normal" >Ref. 64</text>
<text x="545.30" y="315.60" font-size="10.80" text-anchor="start" fill="#1a1a1a" stroke="#1a1a1a" font-weight="normal" >Ref. 62</text>
<text x="570.40" y="282.90" font-size="10.80" text-anchor="start" fill="#4852b5" stroke="#4852b5" font-weight="normal" >This Work</text>
<text x="510.60" y="344.00" font-size="10.80" text-anchor="start" fill="#1a1a1a" stroke="#1a1a1a" font-weight="normal" >This Work</text>
<text x="476.10" y="390.60" font-size="10.80" text-anchor="start" fill="#1a1a1a" stroke="#1a1a1a" font-weight="normal" >Ref. 66</text>
<line x1="525" y1="331.6" x2="518.5" y2="313.5" stroke="#111" stroke-width="1.1"/>
<path d="M516.3,308.2 L520.9,315.6 L515.6,317.3 Z" fill="#111"/>
<text x="0.00" y="0.00" font-size="10.80" text-anchor="start" fill="#e2392e" stroke="#e2392e" font-weight="normal" transform="translate(590.3,313.8) rotate(13.5)">800 Wh kg<tspan font-size="6.4" dy="-3.3">−1</tspan></text>
<text x="0.00" y="0.00" font-size="10.80" text-anchor="start" fill="#4852b5" stroke="#4852b5" font-weight="normal" transform="translate(589.8,344.6) rotate(8)">600 Wh kg<tspan font-size="6.4" dy="-3.3">−1</tspan></text>
<text x="0.00" y="0.00" font-size="10.80" text-anchor="start" fill="#111" stroke="#111" font-weight="normal" transform="translate(589.3,388.0) rotate(3)">300 Wh kg<tspan font-size="6.4" dy="-3.3">−1</tspan></text>
</svg>
</body></html>
